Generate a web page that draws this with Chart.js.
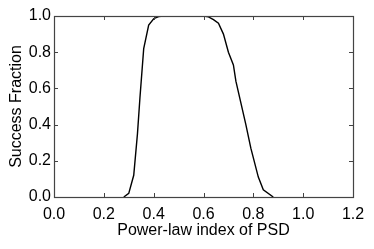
<!DOCTYPE html>
<html>
<head>
<meta charset="utf-8">
<script src="https://cdn.jsdelivr.net/npm/chart.js@4"></script>
<style>
  html, body { margin: 0; padding: 0; background: #fff; }
  #wrap { width: 374px; height: 249px; }
</style>
</head>
<body>
<div id="wrap"><canvas id="psdChart"></canvas></div>
<script>
// curve
const powerLawIndex = [0.28, 0.30, 0.32, 0.335, 0.345, 0.36, 0.38, 0.40, 0.42, 0.44, 0.50, 0.60, 0.62, 0.64, 0.66, 0.68, 0.70, 0.72, 0.73, 0.75, 0.77, 0.79, 0.82, 0.84, 0.88];
const successFraction = [0.0, 0.02, 0.12, 0.35, 0.55, 0.82, 0.95, 0.985, 0.997, 1.0, 1.0, 1.0, 0.995, 0.98, 0.96, 0.90, 0.80, 0.73, 0.64, 0.52, 0.40, 0.27, 0.11, 0.04, 0.0];

const xTicks = [0.0, 0.2, 0.4, 0.6, 0.8, 1.0, 1.2];
const yTicks = [0.0, 0.2, 0.4, 0.6, 0.8, 1.0];

const FONT = 'Liberation Sans, Arial, Helvetica, sans-serif';

// matplotlib-ish frame with inward ticks on all four sides
const frameTicks = {
    id: 'frameTicks',
    afterDraw(chart) {
        const { ctx, chartArea: a, scales } = chart;
        const len = 4;
        ctx.save();
        ctx.strokeStyle = '#444';
        ctx.lineWidth = 1;
        ctx.beginPath();
        xTicks.forEach(v => {
            const px = Math.round(scales.x.getPixelForValue(v)) + 0.5;
            ctx.moveTo(px, a.bottom); ctx.lineTo(px, a.bottom - len);
            ctx.moveTo(px, a.top); ctx.lineTo(px, a.top + len);
        });
        yTicks.forEach(v => {
            const py = Math.round(scales.y.getPixelForValue(v)) + 0.5;
            ctx.moveTo(a.left, py); ctx.lineTo(a.left + len, py);
            ctx.moveTo(a.right, py); ctx.lineTo(a.right - len, py);
        });
        ctx.stroke();
        ctx.lineWidth = 1.2;
        ctx.strokeRect(Math.round(a.left) + 0.5, Math.round(a.top) + 0.5,
            Math.round(a.right - a.left), Math.round(a.bottom - a.top));
        ctx.restore();
    }
};

const ctx = document.getElementById('psdChart').getContext('2d');
new Chart(ctx, {
    type: 'line',
    data: {
        datasets: [{
            data: powerLawIndex.map((x, i) => ({ x: x, y: successFraction[i] })),
            borderColor: '#000',
            borderWidth: 1.4,
            pointRadius: 0,
            tension: 0,
            fill: false
        }]
    },
    options: {
        responsive: true,
        maintainAspectRatio: false,
        animation: false,
        layout: { padding: { top: 16, right: 21, left: 0, bottom: 0 } },
        plugins: {
            legend: { display: false },
            tooltip: { enabled: false }
        },
        scales: {
            x: {
                type: 'linear',
                min: 0,
                max: 1.2,
                afterBuildTicks: s => { s.ticks = xTicks.map(v => ({ value: v })); },
                grid: { display: false, drawTicks: false },
                border: { display: false },
                ticks: {
                    color: '#000',
                    padding: 8,
                    font: { family: FONT, size: 16 },
                    callback: v => v.toFixed(1)
                },
                title: {
                    display: true,
                    text: 'Power-law index of PSD',
                    color: '#000',
                    font: { family: FONT, size: 16 },
                    padding: { top: 0, bottom: 9 }
                },
                afterFit: s => { s.height = 52; }
            },
            y: {
                min: 0,
                max: 1,
                afterBuildTicks: s => { s.ticks = yTicks.map(v => ({ value: v })); },
                grid: { display: false, drawTicks: false },
                border: { display: false },
                ticks: {
                    color: '#000',
                    padding: 3,
                    font: { family: FONT, size: 16 },
                    callback: v => v.toFixed(1)
                },
                title: {
                    display: true,
                    text: 'Success Fraction',
                    color: '#000',
                    font: { family: FONT, size: 16 },
                    padding: { top: 7, bottom: 0 }
                },
                afterFit: s => { s.width = 54; }
            }
        }
    },
    plugins: [frameTicks]
});
</script>
</body>
</html>
